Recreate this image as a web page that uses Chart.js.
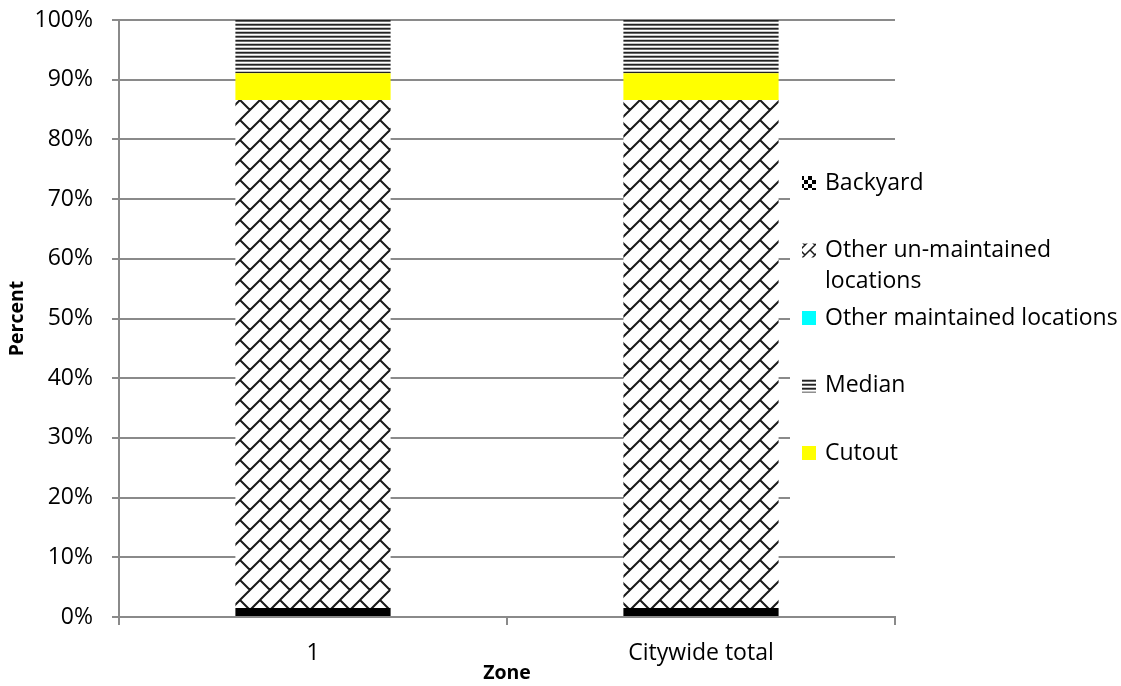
<!DOCTYPE html>
<html lang="en">
<head>
<meta charset="UTF-8" />
<title>Locations by zone</title>
<script src="https://cdn.jsdelivr.net/npm/chart.js@4.4.1/dist/chart.umd.min.js"></script>
<style>
  html, body { margin: 0; padding: 0; background: #fff; }
</style>
</head>
<body>
<canvas id="chart" width="1121" height="686"></canvas>
<script>
// data (percent of each zone)
const zones = ['1', 'Citywide total'];
const backyard = [1.5, 1.5];
const otherUnmaintained = [85.1, 85.1];
const otherMaintained = [0, 0];
const cutout = [4.5, 4.5];
const median = [8.9, 8.9];
const yTicks = [0, 10, 20, 30, 40, 50, 60, 70, 80, 90, 100];

const FONT = '"Open Sans", sans-serif';

// excel style fill patterns
function brickPattern(size, lw) {
  const c = document.createElement('canvas');
  c.width = c.height = size;
  const g = c.getContext('2d');
  g.fillStyle = '#fff';
  g.fillRect(0, 0, size, size);
  g.strokeStyle = '#1a1a1a';
  g.lineWidth = lw;
  g.beginPath();
  for (const dx of [-size, 0, size]) {
    for (const dy of [-size, 0, size]) {
      g.moveTo(dx, dy + size); g.lineTo(dx + size, dy);
      g.moveTo(dx, dy); g.lineTo(dx + size / 2, dy + size / 2);
    }
  }
  g.stroke();
  return g.createPattern(c, 'repeat');
}

function stripePattern() {
  const c = document.createElement('canvas');
  c.width = 4; c.height = 4;
  const g = c.getContext('2d');
  ['#222222', '#6a6a6a', '#ffffff', '#c4c4c4'].forEach((col, i) => {
    g.fillStyle = col;
    g.fillRect(0, i, 4, 1);
  });
  return g.createPattern(c, 'repeat');
}

function checkPattern() {
  const c = document.createElement('canvas');
  c.width = 8; c.height = 8;
  const g = c.getContext('2d');
  g.fillStyle = '#fff';
  g.fillRect(0, 0, 8, 8);
  g.fillStyle = '#000';
  g.fillRect(0, 0, 4, 4);
  g.fillRect(4, 4, 4, 4);
  return g.createPattern(c, 'repeat');
}

const brick = brickPattern(20, 2);
const stripes = stripePattern();

// legend drawn on the right, over the plot edge, like the excel one
const legendItems = [
  { lines: ['Backyard'], fill: checkPattern() },
  { lines: ['Other un-maintained', 'locations'], fill: brickPattern(10, 1.5) },
  { lines: ['Other maintained locations'], fill: '#00ffff' },
  { lines: ['Median'], fill: stripes },
  { lines: ['Cutout'], fill: '#ffff00' }
];

const sideLegend = {
  id: 'sideLegend',
  afterDraw(chart) {
    const ctx = chart.ctx;
    const x0 = chart.chartArea.right - 105;
    ctx.save();
    ctx.fillStyle = '#fff';
    ctx.fillRect(x0, 155, chart.width - x0, 350);
    ctx.font = '23px ' + FONT;
    ctx.textBaseline = 'middle';
    legendItems.forEach((it, i) => {
      const y = 183 + i * 67.5;
      ctx.fillStyle = it.fill;
      ctx.fillRect(x0 + 12, y - 7, 14, 14);
      ctx.fillStyle = '#000';
      it.lines.forEach((t, j) => ctx.fillText(t, x0 + 35, y + j * 31));
    });
    ctx.restore();
  }
};

const ctx = document.getElementById('chart').getContext('2d');
new Chart(ctx, {
  type: 'bar',
  data: {
    labels: zones,
    datasets: [
      { label: 'Backyard', data: backyard, backgroundColor: '#000' },
      { label: 'Other un-maintained locations', data: otherUnmaintained, backgroundColor: brick },
      { label: 'Other maintained locations', data: otherMaintained, backgroundColor: '#00ffff' },
      { label: 'Cutout', data: cutout, backgroundColor: '#ffff00' },
      { label: 'Median', data: median, backgroundColor: stripes }
    ]
  },
  options: {
    responsive: false,
    animation: false,
    events: [],
    layout: { padding: { top: 20, right: 226, bottom: 0, left: 0 } },
    datasets: { bar: { categoryPercentage: 1, barPercentage: 0.4, borderWidth: 0 } },
    plugins: { legend: { display: false }, tooltip: { enabled: false } },
    scales: {
      x: {
        stacked: true,
        afterFit: s => { s.height = 69; s.paddingLeft = 0; s.paddingRight = 0; },
        grid: { offset: true, drawOnChartArea: false, drawTicks: true, tickLength: 8, color: '#8a8a8a', lineWidth: 2 },
        border: { color: '#8a8a8a', width: 2 },
        ticks: { color: '#000', font: { family: FONT, size: 23 }, padding: 15 },
        title: { display: true, text: 'Zone', color: '#000', font: { family: FONT, size: 19.5, weight: 'bold' }, padding: { top: 0, bottom: 1 } }
      },
      y: {
        stacked: true,
        min: 0,
        max: 100,
        afterFit: s => { s.width = 119; s.paddingTop = 0; s.paddingBottom = 0; },
        afterBuildTicks: s => { s.ticks = yTicks.map(v => ({ value: v })); },
        grid: { color: '#8a8a8a', lineWidth: 2, tickLength: 7 },
        border: { color: '#8a8a8a', width: 2 },
        ticks: { color: '#000', font: { family: FONT, size: 23 }, padding: 19, callback: v => v + '%' },
        title: { display: true, text: 'Percent', color: '#000', font: { family: FONT, size: 19.5, weight: 'bold' }, padding: { top: 6, bottom: 0 } }
      }
    }
  },
  plugins: [sideLegend]
});
</script>
</body>
</html>
